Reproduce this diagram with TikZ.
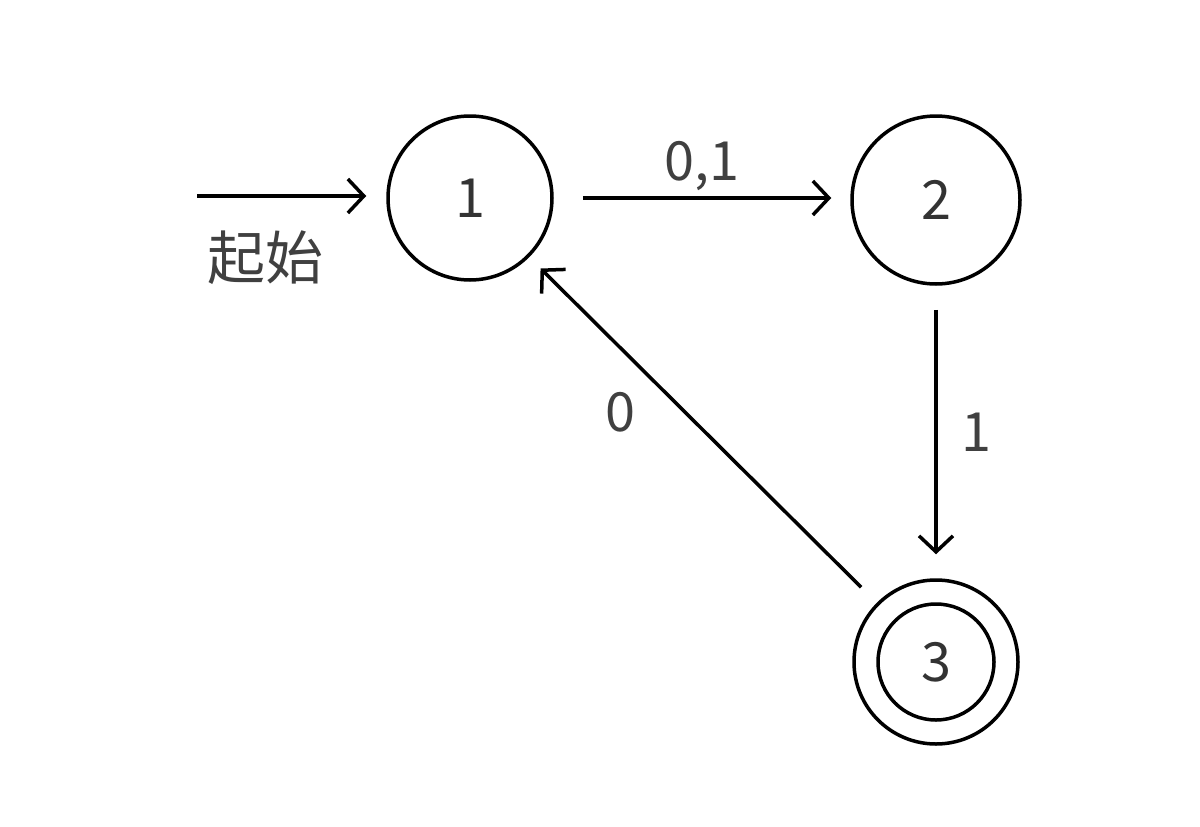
\documentclass[tikz,border=0pt]{standalone}
\usepackage{fontspec}
\setmainfont{Noto Sans CJK SC}
\usetikzlibrary{arrows.meta}
\begin{document}
\begin{tikzpicture}[x=1pt,y=-1pt,
  st/.style={circle,draw,line width=3.5pt,minimum size=164pt,inner sep=0pt,text=black!80,font=\fontsize{54}{60}\selectfont},
  ed/.style={line width=3.5pt,-{Straight Barb[length=16pt,width=34pt,line width=3.5pt]}},
  lb/.style={text=black!75,font=\fontsize{54}{60}\selectfont}]
\useasboundingbox (0,0) rectangle (1200,827);
\node[st] (n1) at (470,198) {1};
\node[st,minimum size=168pt] (n2) at (936,200) {2};
\node[st] (n3) at (936,662) {};
\node[st,minimum size=116pt] (n3i) at (936,662) {3};
\coordinate (s) at (197,196);
\draw[ed] (s) -- ([xshift=-20pt]n1.west|-s);
\node[lb,font=\fontsize{58}{64}\selectfont] (t) at (265,258) {起始};
\draw[ed,shorten <=29pt,shorten >=19pt] (n1.east) -- (n2.west|-n1.east) node[lb,midway,above=2pt] (l1) {0,1};
\draw[ed,shorten <=24pt,shorten >=24pt] (n2.south) -- (n3.north) node[lb,midway,right=20pt] (l2) {1};
\draw[ed,shorten <=22pt,shorten >=16pt] (n3.north west) -- (n1.south east) node[lb,pos=0.55,left=45pt] (l3) {0};
\end{tikzpicture}
\end{document}
